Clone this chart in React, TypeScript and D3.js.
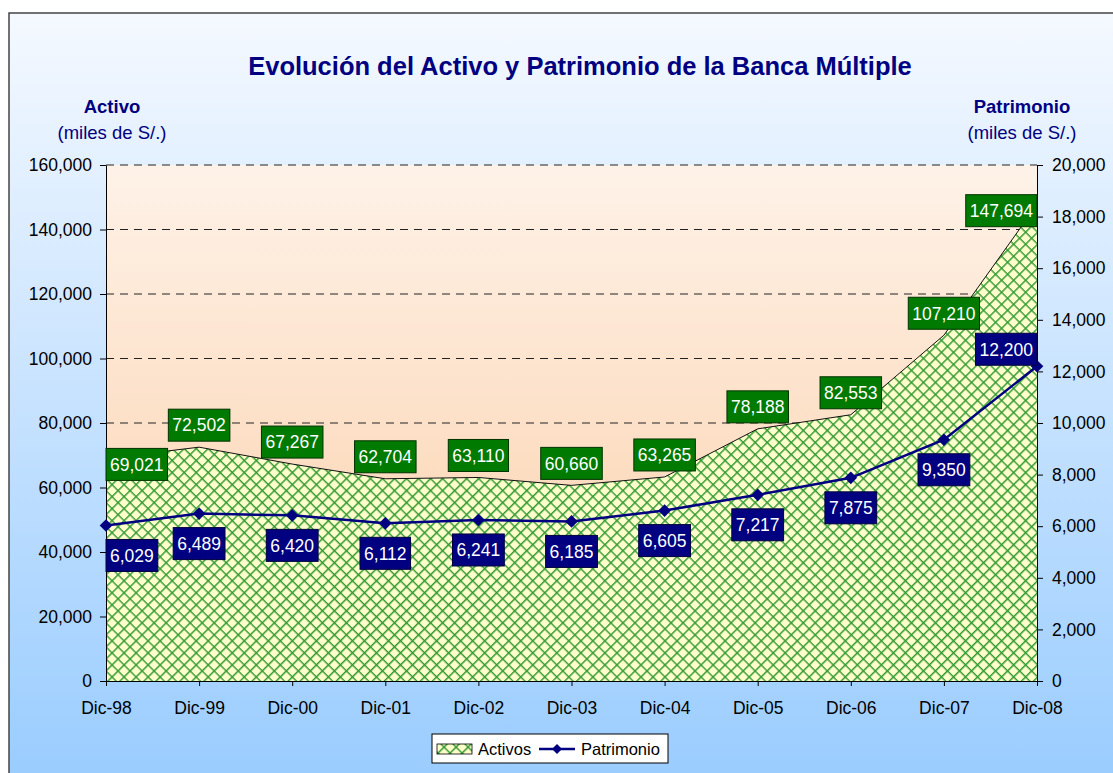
import React, { useEffect, useRef } from 'react'
import * as d3 from 'd3'

// data
const categories = ['Dic-98', 'Dic-99', 'Dic-00', 'Dic-01', 'Dic-02', 'Dic-03', 'Dic-04', 'Dic-05', 'Dic-06', 'Dic-07', 'Dic-08']
const activos = [69021, 72502, 67267, 62704, 63110, 60660, 63265, 78188, 82553, 107210, 147694]
const patrimonio = [6029, 6489, 6420, 6112, 6241, 6185, 6605, 7217, 7875, 9350, 12200]
const leftTicks = [0, 20000, 40000, 60000, 80000, 100000, 120000, 140000, 160000]
const rightTicks = [0, 2000, 4000, 6000, 8000, 10000, 12000, 14000, 16000, 18000, 20000]

const FONT = "'Liberation Sans', Arial, sans-serif"
const NAVY = '#000080'

export default function App() {
    const ref = useRef<SVGSVGElement>(null)

    useEffect(() => {
        const W = 1113, H = 773
        const margin = { top: 165, right: 76, bottom: 92, left: 106 }
        const width = W - margin.left - margin.right
        const height = H - margin.top - margin.bottom

        const svg = d3.select(ref.current)
        svg.selectAll('*').remove()

        const defs = svg.append('defs')
        const outer = defs.append('linearGradient').attr('id', 'outerGrad').attr('x1', 0).attr('y1', 0).attr('x2', 0).attr('y2', 1)
        outer.append('stop').attr('offset', '0%').attr('stop-color', '#f5f9ff')
        outer.append('stop').attr('offset', '100%').attr('stop-color', '#99ccff')
        const inner = defs.append('linearGradient').attr('id', 'plotGrad').attr('x1', 0).attr('y1', 0).attr('x2', 0).attr('y2', 1)
        inner.append('stop').attr('offset', '0%').attr('stop-color', '#fef2e8')
        inner.append('stop').attr('offset', '100%').attr('stop-color', '#fbcfa8')

        // crosshatch pattern for the area
        const s = 8.5
        const pat = defs.append('pattern').attr('id', 'hatch')
            .attr('patternUnits', 'userSpaceOnUse')
            .attr('width', s).attr('height', s)
            .attr('patternTransform', 'rotate(45)')
        pat.append('rect').attr('width', s).attr('height', s).attr('fill', '#ffffcc')
        pat.append('path').attr('d', 'M0,0.75H' + s + 'M0.75,0V' + s)
            .attr('stroke', '#339933').attr('stroke-width', 1.5)

        // chart area background + border
        svg.append('rect')
            .attr('x', 9).attr('y', 13).attr('width', W).attr('height', H)
            .attr('fill', 'url(#outerGrad)')
            .attr('stroke', '#444').attr('stroke-width', 1.5)

        // title
        svg.append('text')
            .attr('x', 580).attr('y', 75)
            .attr('text-anchor', 'middle')
            .style('font-family', FONT).style('font-weight', 'bold').style('font-size', '25.5px')
            .attr('fill', NAVY)
            .text('Evolución del Activo y Patrimonio de la Banca Múltiple')

        // axis titles
        const axisTitle = (x: number, name: string) => {
            svg.append('text').attr('x', x).attr('y', 113).attr('text-anchor', 'middle')
                .style('font-family', FONT).style('font-weight', 'bold').style('font-size', '18.5px')
                .attr('fill', NAVY).text(name)
            svg.append('text').attr('x', x).attr('y', 139).attr('text-anchor', 'middle')
                .style('font-family', FONT).style('font-size', '18.5px')
                .attr('fill', NAVY).text('(miles de S/.)')
        }
        axisTitle(112, 'Activo')
        axisTitle(1022, 'Patrimonio')

        const g = svg.append('g').attr('transform', 'translate(' + margin.left + ',' + margin.top + ')')

        const x = d3.scalePoint<string>().domain(categories).range([0, width])
        const yL = d3.scaleLinear().domain([0, 160000]).range([height, 0])
        const yR = d3.scaleLinear().domain([0, 20000]).range([height, 0])

        // plot area
        g.append('rect').attr('width', width).attr('height', height).attr('fill', 'url(#plotGrad)')

        // dashed gridlines
        g.selectAll('.grid').data(leftTicks.filter(d => d > 0)).enter().append('line')
            .attr('x1', 0).attr('x2', width)
            .attr('y1', d => yL(d)).attr('y2', d => yL(d))
            .attr('stroke', '#222').attr('stroke-dasharray', '8,6').attr('stroke-width', 1)

        // activos area
        const area = d3.area<number>()
            .x((d, i) => x(categories[i]) as number)
            .y0(height)
            .y1(d => yL(d))
        g.append('path').datum(activos).attr('d', area).attr('fill', 'url(#hatch)')
        const topLine = d3.line<number>().x((d, i) => x(categories[i]) as number).y(d => yL(d))
        g.append('path').datum(activos).attr('d', topLine).attr('fill', 'none').attr('stroke', '#111').attr('stroke-width', 1)

        // axes
        const styleAxis = (sel: any) => {
            sel.selectAll('text').style('font-family', FONT).style('font-size', '17.5px').attr('fill', '#000')
            sel.selectAll('line').attr('stroke', '#000')
            sel.select('.domain').attr('stroke', '#000')
        }
        g.append('g')
            .call(d3.axisLeft(yL).tickValues(leftTicks).tickFormat(d3.format(',')).tickSize(6).tickSizeOuter(0).tickPadding(8))
            .call(styleAxis)
        g.append('g').attr('transform', 'translate(' + width + ',0)')
            .call(d3.axisRight(yR).tickValues(rightTicks).tickFormat(d3.format(',')).tickSize(6).tickSizeOuter(0).tickPadding(9))
            .call(styleAxis)
        g.append('g').attr('transform', 'translate(0,' + height + ')')
            .call(d3.axisBottom(x).tickSize(5).tickSizeOuter(0).tickPadding(16))
            .call(styleAxis)

        // patrimonio line
        const line = d3.line<number>().x((d, i) => x(categories[i]) as number).y(d => yR(d))
        g.append('path').datum(patrimonio).attr('d', line)
            .attr('fill', 'none').attr('stroke', NAVY).attr('stroke-width', 2.5)
        g.selectAll('.dot').data(patrimonio).enter().append('path')
            .attr('d', d3.symbol().type(d3.symbolSquare).size(80))
            .attr('fill', NAVY)
            .attr('transform', (d, i) => 'translate(' + x(categories[i]) + ',' + yR(d) + ') rotate(45)')

        // data labels
        const fmt = d3.format(',')
        const last = categories.length - 1
        const label = (value: number, px: number, cy: number, fill: string, stroke: string) => {
            const t = g.append('text')
                .attr('text-anchor', 'middle').attr('dy', '0.36em')
                .style('font-family', FONT).style('font-size', '17.5px')
                .attr('fill', '#fff').text(fmt(value))
            const w = (t.node() as SVGTextElement).getComputedTextLength() + 8
            const cx = Math.max(w / 2, Math.min(width - w / 2, px))
            t.attr('x', cx).attr('y', cy)
            g.insert('rect', () => t.node())
                .attr('x', cx - w / 2).attr('y', cy - 16).attr('width', w).attr('height', 32)
                .attr('fill', fill).attr('stroke', stroke).attr('stroke-width', 1)
        }
        activos.forEach((d, i) => {
            const px = x(categories[i]) as number
            const cy = (i === 0 || i === last) ? yL(d) + 6 : yL(d) - 22
            label(d, px, cy, '#007a00', '#003300')
        })
        patrimonio.forEach((d, i) => {
            const px = x(categories[i]) as number
            const cy = i === last ? yR(d) - 17 : yR(d) + 30
            label(d, px, cy, NAVY, '#000040')
        })

        // legend
        const lg = svg.append('g').attr('transform', 'translate(432,734)')
        lg.append('rect').attr('width', 236).attr('height', 29).attr('fill', '#fff').attr('stroke', '#000')
        lg.append('rect').attr('x', 5).attr('y', 10).attr('width', 35).attr('height', 10)
            .attr('fill', 'url(#hatch)').attr('stroke', '#000').attr('stroke-width', 0.8)
        lg.append('text').attr('x', 46).attr('y', 21)
            .style('font-family', FONT).style('font-size', '16.5px').text('Activos')
        lg.append('line').attr('x1', 107).attr('x2', 143).attr('y1', 15).attr('y2', 15)
            .attr('stroke', NAVY).attr('stroke-width', 2.5)
        lg.append('path').attr('d', d3.symbol().type(d3.symbolSquare).size(50))
            .attr('transform', 'translate(125,15) rotate(45)').attr('fill', NAVY)
        lg.append('text').attr('x', 149).attr('y', 21)
            .style('font-family', FONT).style('font-size', '16.5px').text('Patrimonio')
    }, [])

    return (
        <svg ref={ref} width={1113} height={773}
            style={{ position: 'fixed', left: 0, top: 0, display: 'block' }} />
    )
}
